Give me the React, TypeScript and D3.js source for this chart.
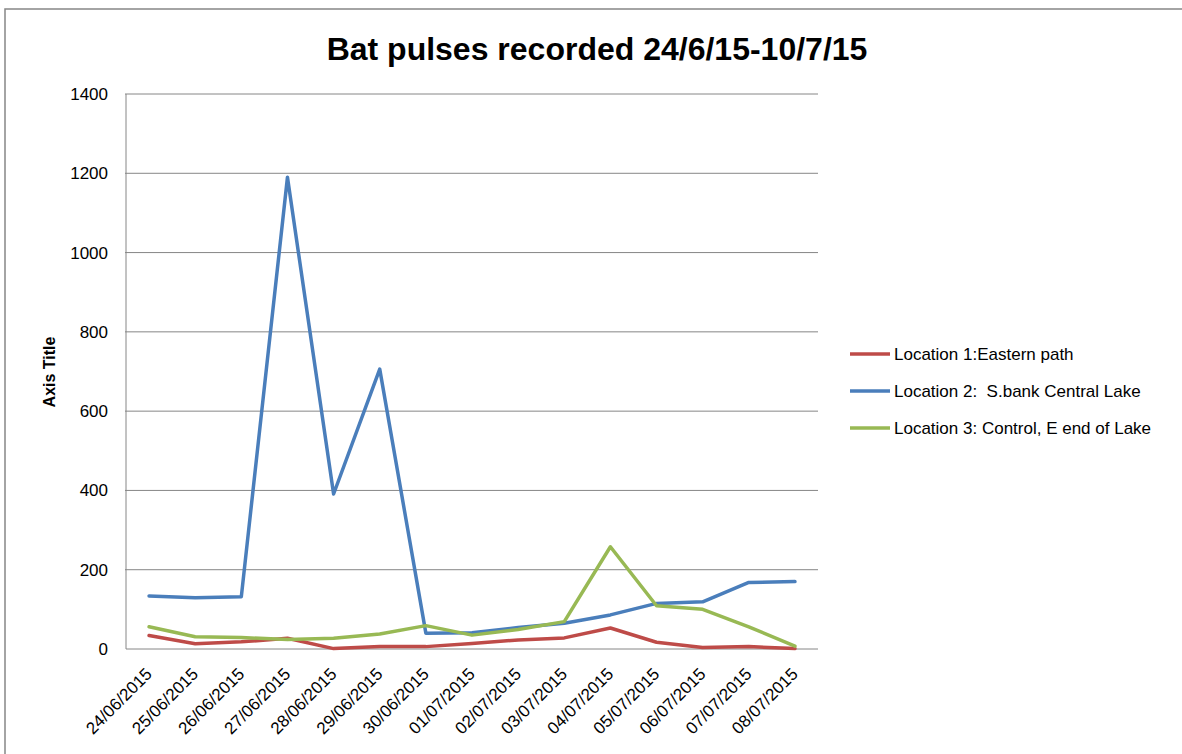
import React from "react";
import * as d3 from "d3";

const categories = ["24/06/2015","25/06/2015","26/06/2015","27/06/2015","28/06/2015","29/06/2015","30/06/2015","01/07/2015","02/07/2015","03/07/2015","04/07/2015","05/07/2015","06/07/2015","07/07/2015","08/07/2015"];
const location1 = [34, 13, 18, 27, 1, 6, 6, 14, 23, 28, 53, 17, 4, 6, 1];
const location2 = [134, 129, 132, 1190, 391, 706, 40, 41, 54, 65, 86, 115, 119, 168, 170];
const location3 = [56, 31, 29, 24, 27, 38, 59, 35, 49, 69, 258, 109, 100, 56, 7];
const yTicks = [0, 200, 400, 600, 800, 1000, 1200, 1400];
const seriesNames = ["Location 1:Eastern path", "Location 2:  S.bank Central Lake", "Location 3: Control, E end of Lake"];
const seriesColors = ["#BE4B48", "#4A7EBB", "#98B954"];

export default function App() {
  const left = 126, right = 818, top = 94, bottom = 649;
  const x = d3.scaleBand<string>().domain(categories).range([left, right]);
  const y = d3.scaleLinear().domain([0, 1400]).range([bottom, top]);
  const cx = (c: string) => (x(c) as number) + x.bandwidth() / 2;
  const line = d3.line<number>().x((_, i) => cx(categories[i])).y((v) => y(v));
  const series = [location1, location2, location3];
  const font = "'Liberation Sans', Arial, sans-serif";
  return (
    <svg width={1182} height={754} style={{ position: "absolute", left: 0, top: 0, background: "#fff" }} fontFamily={font}>
      <rect x={5} y={9} width={1200} height={800} fill="#fff" stroke="#868686" strokeWidth={1.5} />
      <text x={597} y={60} textAnchor="middle" fontSize={32} fontWeight="bold" fill="#000">Bat pulses recorded 24/6/15-10/7/15</text>
      {yTicks.map((t) => (
        <g key={t}>
          <line x1={t === 0 ? left : left - 1} x2={right} y1={y(t)} y2={y(t)} stroke="#868686" strokeWidth={1} />
          <text x={108} y={y(t)} dy="0.35em" textAnchor="end" fontSize={17} fill="#000">{t}</text>
        </g>
      ))}
      <line x1={left} x2={left} y1={top} y2={bottom} stroke="#868686" strokeWidth={1} />
      <text transform={`translate(55,372) rotate(-90)`} textAnchor="middle" fontSize={16} fontWeight="bold" fill="#000">Axis Title</text>
      {categories.map((c) => (
        <text key={c} transform={`translate(${cx(c) + 4},${675}) rotate(-45)`} textAnchor="end" fontSize={17} fill="#000">{c}</text>
      ))}
      {series.map((s, i) => (
        <path key={i} d={line(s) as string} fill="none" stroke={seriesColors[i]} strokeWidth={3.5} strokeLinejoin="round" strokeLinecap="round" />
      ))}
      {seriesNames.map((n, i) => (
        <g key={n} transform={`translate(850,${354 + i * 37})`}>
          <line x1={0} x2={40} y1={0} y2={0} stroke={seriesColors[i]} strokeWidth={3.5} />
          <text x={44} y={0} dy="0.35em" fontSize={17} fill="#000" style={{ whiteSpace: "pre" }}>{n}</text>
        </g>
      ))}
    </svg>
  );
}
